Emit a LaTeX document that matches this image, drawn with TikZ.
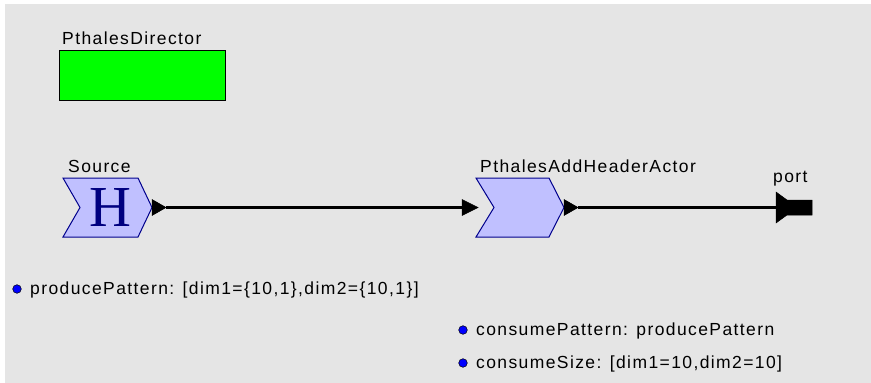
\documentclass[tikz,border=0pt]{standalone}
\usepackage{fontspec}
\setmainfont{Liberation Sans}
\newfontfamily\lblfont[LetterSpace=8]{Liberation Sans}
\newfontfamily\Hfont{Liberation Serif}
\definecolor{bggray}{RGB}{229,229,229}
\definecolor{actorfill}{RGB}{192,192,255}
\definecolor{actordraw}{RGB}{0,0,140}
\definecolor{Hcol}{RGB}{0,0,128}
\definecolor{dirgreen}{RGB}{0,255,0}
\tikzset{
  lbl/.style={anchor=base west, inner sep=0pt, font=\lblfont\fontsize{17.5}{20}\selectfont},
  actor/.style={fill=actorfill, draw=actordraw, line width=1pt, line join=miter},
  wire/.style={line width=2.5pt, black},
  porttri/.style={fill=black, draw=black, line width=0.5pt},
  pdot/.style={fill=blue, draw=black, line width=0.5pt},
}
\begin{document}
\begin{tikzpicture}[x=1pt,y=-1pt]
\useasboundingbox (0,0) rectangle (871,383);
\fill[bggray] (5,4) rectangle (871,383);
% Director
\node[lbl] (dirlbl) at (62,44) {PthalesDirector};
\node[draw=black, fill=dirgreen, line width=1pt, minimum width=166pt, minimum height=50pt, inner sep=0pt, anchor=north west] (dir) at (59,50) {};
% Source actor
\draw[actor] (63,178) -- (138,178) -- (152,207.5) -- (138,237) -- (63,237) -- (80,207.5) -- cycle;
\node[inner sep=0pt, text=Hcol, font=\Hfont\fontsize{58}{58}\selectfont] (src) at (110,208) {H};
\node[lbl] (srclbl) at (68,172) {Source};
% Add header actor
\draw[actor] (476,178) -- (549,178) -- (564,207.5) -- (549,237) -- (476,237) -- (494,207.5) -- cycle;
\node[lbl] (addlbl) at (480,172) {PthalesAddHeaderActor};
% ports
\coordinate (srcout) at (166,207.5);
\coordinate (addin) at (463,207.5);
\coordinate (addout) at (578,207.5);
\coordinate (portin) at (777,207.5);
\fill[porttri] (152,199.5) -- (166,207.5) -- (152,215.5) -- cycle;
\fill[porttri] (462,199.5) -- (478,207.5) -- (462,215.5) -- cycle;
\fill[porttri] (564,199.5) -- (578,207.5) -- (564,215.5) -- cycle;
\fill[porttri] (776,192) -- (787,200) -- (812,200) -- (812,215) -- (787,215) -- (776,223) -- cycle;
\node[lbl] (portlbl) at (773,182) {port};
% connectors
\draw[wire] (srcout) -- (addin);
\draw[wire] (addout) -- (portin);
% parameters
\filldraw[pdot] (17,289) circle (4.3);
\node[lbl] (p1) at (30,294.5) {producePattern: [dim1=\{10,1\},dim2=\{10,1\}]};
\filldraw[pdot] (463,330) circle (4.3);
\node[lbl] (p2) at (476,335.5) {consumePattern: producePattern};
\filldraw[pdot] (463,363) circle (4.3);
\node[lbl] (p3) at (476,368.5) {consumeSize: [dim1=10,dim2=10]};
\end{tikzpicture}
\end{document}
